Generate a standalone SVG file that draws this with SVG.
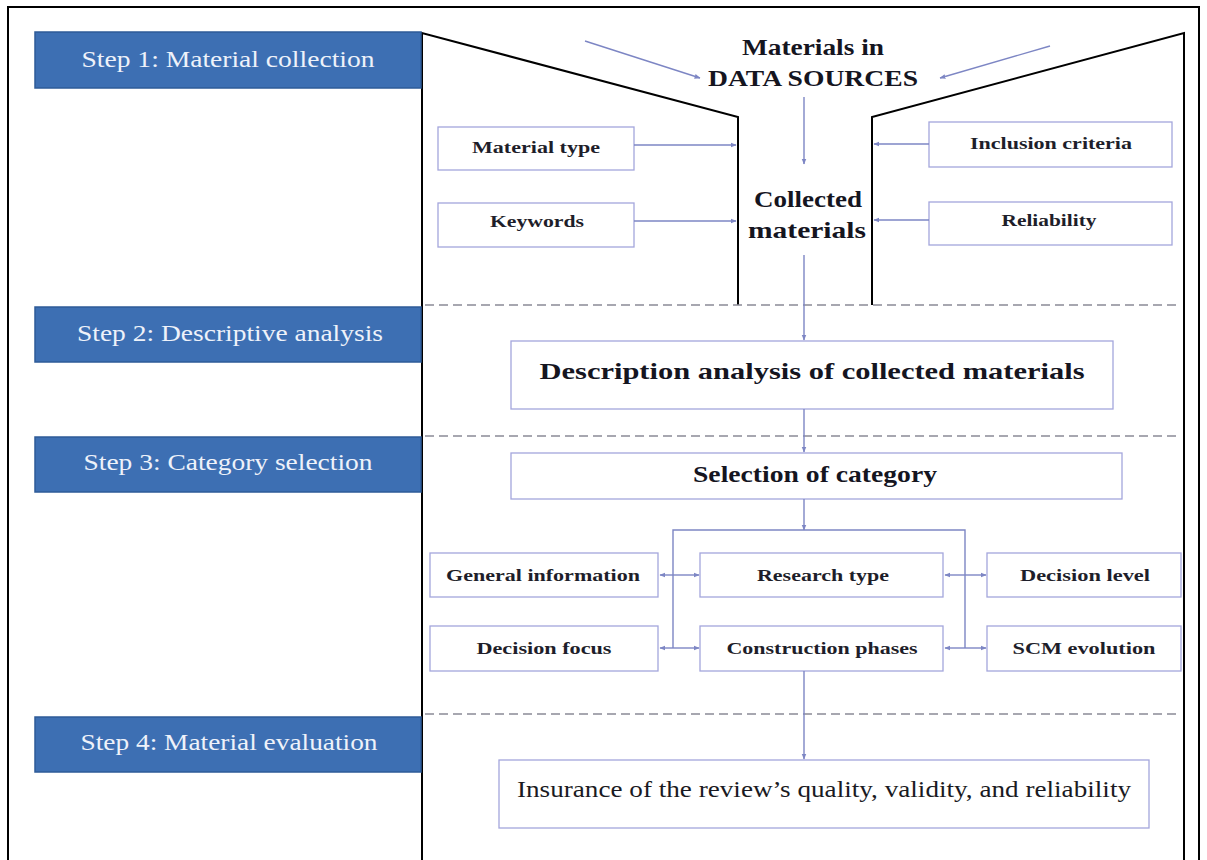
<svg xmlns="http://www.w3.org/2000/svg" width="1207" height="860" viewBox="0 0 1207 860">
<style>
.step{fill:#3d6fb3;stroke:#2e5b98;stroke-width:1.5}
.steptxt{font-family:"Liberation Serif",serif;font-size:24px;fill:#eef2fa;text-anchor:middle}
.box{fill:#fff;stroke:#a4a6dc;stroke-width:1.3}
.lbl{font-family:"Liberation Serif",serif;font-weight:bold;font-size:17px;fill:#1e1e2a;text-anchor:middle}
.big{font-family:"Liberation Serif",serif;font-weight:bold;font-size:24px;fill:#15151f;text-anchor:middle}
.frame{fill:none;stroke:#000;stroke-width:2}
.dash{stroke:#8a8a96;stroke-width:1.5;stroke-dasharray:9,5;fill:none}
.conn{stroke:#7d86c4;stroke-width:1.4;fill:none;marker-end:url(#ah)}
.plain{stroke:#7d86c4;stroke-width:1.4;fill:none}
</style>
<defs>
<marker id="ah" viewBox="0 0 10 10" refX="9" refY="5" markerWidth="6" markerHeight="6" orient="auto" markerUnits="userSpaceOnUse">
<path d="M0,1 L10,5 L0,9 z" fill="#7d86c4"/>
</marker>
</defs>
<rect width="1207" height="860" fill="#fff"/>
<rect x="8" y="7" width="1191" height="870" class="frame"/>

<g id="funnel">
<polyline points="422,877 422,33 738,117 738,305" class="frame"/>
<polyline points="1184,877 1184,33 872,117 872,305" class="frame"/>
</g>

<g id="dividers">
<line x1="425" y1="305" x2="1178" y2="305" class="dash"/>
<line x1="425" y1="436" x2="1178" y2="436" class="dash"/>
<line x1="425" y1="714" x2="1180" y2="714" class="dash"/>
</g>

<g id="step1"><rect x="35" y="32" width="386" height="56" class="step"/><text x="228" y="67" class="steptxt" textLength="293" lengthAdjust="spacingAndGlyphs">Step 1: Material collection</text></g>
<g id="step2"><rect x="35" y="307" width="386" height="55" class="step"/><text x="230" y="341" class="steptxt" textLength="306" lengthAdjust="spacingAndGlyphs">Step 2: Descriptive analysis</text></g>
<g id="step3"><rect x="35" y="437" width="386" height="55" class="step"/><text x="228" y="470" class="steptxt" textLength="289" lengthAdjust="spacingAndGlyphs">Step 3: Category selection</text></g>
<g id="step4"><rect x="35" y="717" width="386" height="55" class="step"/><text x="229" y="750" class="steptxt" textLength="297" lengthAdjust="spacingAndGlyphs">Step 4: Material evaluation</text></g>

<g id="datasources">
<text x="813" y="55" class="big" textLength="142" lengthAdjust="spacingAndGlyphs">Materials in</text>
<text x="813" y="86" class="big" textLength="210" lengthAdjust="spacingAndGlyphs">DATA SOURCES</text>
</g>
<g id="collected">
<text x="808" y="207" class="big" textLength="108" lengthAdjust="spacingAndGlyphs">Collected</text>
<text x="807" y="238" class="big" textLength="118" lengthAdjust="spacingAndGlyphs">materials</text>
</g>

<g id="materialtype"><rect x="438" y="127" width="196" height="43" class="box"/><text x="536" y="153" class="lbl" textLength="128" lengthAdjust="spacingAndGlyphs">Material type</text></g>
<g id="keywords"><rect x="438" y="203" width="196" height="44" class="box"/><text x="537" y="227" class="lbl" textLength="94" lengthAdjust="spacingAndGlyphs">Keywords</text></g>
<g id="inclusion"><rect x="929" y="122" width="243" height="45" class="box"/><text x="1051" y="149" class="lbl" textLength="162" lengthAdjust="spacingAndGlyphs">Inclusion  criteria</text></g>
<g id="reliability"><rect x="929" y="202" width="243" height="43" class="box"/><text x="1049" y="226" class="lbl" textLength="95" lengthAdjust="spacingAndGlyphs">Reliability</text></g>

<g id="description"><rect x="511" y="341" width="602" height="68" class="box"/><text x="812" y="379" class="big" font-size="26" textLength="545" lengthAdjust="spacingAndGlyphs">Description analysis of collected materials</text></g>
<g id="selection"><rect x="511" y="453" width="611" height="46" class="box"/><text x="815" y="482" class="big" font-size="25" textLength="244" lengthAdjust="spacingAndGlyphs">Selection of category</text></g>

<g id="general"><rect x="430" y="553" width="228" height="44" class="box"/><text x="543" y="581" class="lbl" textLength="194" lengthAdjust="spacingAndGlyphs">General information</text></g>
<g id="research"><rect x="700" y="553" width="243" height="44" class="box"/><text x="823" y="581" class="lbl" textLength="132" lengthAdjust="spacingAndGlyphs">Research type</text></g>
<g id="decisionlevel"><rect x="987" y="553" width="194" height="44" class="box"/><text x="1085" y="581" class="lbl" textLength="130" lengthAdjust="spacingAndGlyphs">Decision level</text></g>
<g id="decisionfocus"><rect x="430" y="626" width="228" height="45" class="box"/><text x="544" y="654" class="lbl" textLength="135" lengthAdjust="spacingAndGlyphs">Decision focus</text></g>
<g id="construction"><rect x="700" y="626" width="243" height="45" class="box"/><text x="822" y="654" class="lbl" textLength="191" lengthAdjust="spacingAndGlyphs">Construction phases</text></g>
<g id="scm"><rect x="987" y="626" width="194" height="45" class="box"/><text x="1084" y="654" class="lbl" textLength="143" lengthAdjust="spacingAndGlyphs">SCM evolution</text></g>

<g id="insurance"><rect x="499" y="760" width="650" height="68" class="box"/><text x="824" y="797" font-family="Liberation Serif,serif" font-size="23" fill="#1a1a22" text-anchor="middle" textLength="614" lengthAdjust="spacingAndGlyphs">Insurance of the review’s quality, validity, and reliability</text></g>

<g id="connectors">
<line x1="585" y1="41" x2="700" y2="78" class="conn"/>
<line x1="1050" y1="46" x2="940" y2="78" class="conn"/>
<line x1="804" y1="97" x2="804" y2="164" class="conn"/>
<line x1="634" y1="145" x2="736" y2="145" class="conn"/>
<line x1="634" y1="221" x2="736" y2="221" class="conn"/>
<line x1="929" y1="144" x2="874" y2="144" class="conn"/>
<line x1="929" y1="220" x2="874" y2="220" class="conn"/>
<line x1="804" y1="255" x2="804" y2="340" class="conn"/>
<line x1="804" y1="409" x2="804" y2="452" class="conn"/>
<line x1="804" y1="499" x2="804" y2="530" class="conn"/>
<polyline points="673,648 673,530 965,530 965,648" class="plain"/>
<line x1="673" y1="575" x2="660" y2="575" class="conn"/>
<line x1="673" y1="575" x2="699" y2="575" class="conn"/>
<line x1="965" y1="575" x2="945" y2="575" class="conn"/>
<line x1="965" y1="575" x2="986" y2="575" class="conn"/>
<line x1="673" y1="648" x2="660" y2="648" class="conn"/>
<line x1="673" y1="648" x2="699" y2="648" class="conn"/>
<line x1="965" y1="648" x2="945" y2="648" class="conn"/>
<line x1="965" y1="648" x2="986" y2="648" class="conn"/>
<line x1="804" y1="671" x2="804" y2="759" class="conn"/>
</g>
</svg>
